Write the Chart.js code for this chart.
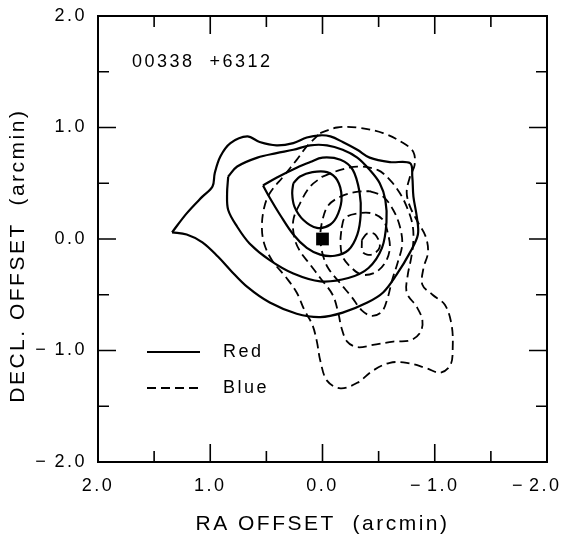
<!DOCTYPE html>
<html>
<head>
<meta charset="utf-8">
<script src="https://cdn.jsdelivr.net/npm/chart.js@4"></script>
<style>
  body { margin: 0; background: #fff; }
  canvas { display: block; }
</style>
</head>
<body>
<canvas id="contourChart" width="562" height="542"></canvas>
<script>
// contour traces, [RA offset, Decl offset] in arcmin
const red1 = [[1.34,0.06],[1.21,0.23],[1.07,0.38],[0.98,0.47],[0.96,0.59],[0.91,0.74],[0.82,0.86],[0.67,0.92],[0.56,0.87],[0.41,0.84],[0.26,0.86],[0.14,0.91],[0.02,0.93],[-0.07,0.92],[-0.18,0.87],[-0.31,0.80],[-0.42,0.73],[-0.60,0.69],[-0.78,0.68],[-0.80,0.56],[-0.81,0.38],[-0.84,0.20],[-0.85,0.04],[-0.78,-0.12],[-0.66,-0.32],[-0.54,-0.48],[-0.40,-0.57],[-0.18,-0.66],[0.02,-0.70],[0.23,-0.67],[0.47,-0.57],[0.67,-0.43],[0.82,-0.28],[0.93,-0.16],[1.07,-0.03],[1.21,0.04],[1.34,0.06]];
const red2 = [[0.84,0.56],[0.76,0.65],[0.58,0.73],[0.41,0.77],[0.26,0.80],[0.11,0.84],[-0.04,0.84],[-0.18,0.80],[-0.31,0.73],[-0.42,0.62],[-0.51,0.50],[-0.56,0.35],[-0.57,0.15],[-0.53,-0.08],[-0.41,-0.26],[-0.23,-0.35],[0.02,-0.38],[0.26,-0.31],[0.47,-0.19],[0.65,-0.04],[0.76,0.11],[0.84,0.26],[0.85,0.41],[0.84,0.56]];
const red3 = [[0.53,0.48],[0.41,0.55],[0.23,0.64],[0.11,0.69],[0.00,0.73],[-0.16,0.71],[-0.27,0.62],[-0.33,0.42],[-0.34,0.22],[-0.31,0.04],[-0.23,-0.10],[-0.11,-0.15],[0.02,-0.14],[0.14,-0.08],[0.26,0.04],[0.38,0.22],[0.47,0.37],[0.53,0.48]];
const red4 = [[0.26,0.50],[0.20,0.56],[0.09,0.60],[-0.04,0.60],[-0.13,0.53],[-0.17,0.38],[-0.14,0.23],[-0.07,0.13],[0.05,0.10],[0.17,0.17],[0.25,0.29],[0.27,0.41],[0.26,0.50]];

const blue1 = [[0.02,0.95],[-0.13,1.00],[-0.31,1.00],[-0.54,0.95],[-0.72,0.86],[-0.81,0.78],[-0.82,0.66],[-0.78,0.56],[-0.75,0.42],[-0.78,0.29],[-0.85,0.15],[-0.92,0.02],[-0.94,-0.12],[-0.90,-0.26],[-0.89,-0.41],[-0.98,-0.50],[-1.09,-0.59],[-1.15,-0.77],[-1.16,-0.98],[-1.14,-1.13],[-1.05,-1.20],[-0.93,-1.16],[-0.75,-1.11],[-0.60,-1.11],[-0.45,-1.18],[-0.31,-1.29],[-0.16,-1.34],[-0.04,-1.27],[0.02,-1.09],[0.05,-0.92],[0.09,-0.77],[0.16,-0.64],[0.23,-0.48],[0.32,-0.35],[0.45,-0.19],[0.52,-0.04],[0.54,0.11],[0.52,0.28],[0.47,0.41],[0.35,0.56],[0.23,0.71],[0.14,0.83],[0.02,0.95]];
const blue2 = [[0.00,0.56],[-0.16,0.62],[-0.31,0.65],[-0.49,0.62],[-0.60,0.53],[-0.69,0.41],[-0.75,0.29],[-0.80,0.14],[-0.81,-0.01],[-0.79,-0.17],[-0.76,-0.32],[-0.75,-0.48],[-0.84,-0.61],[-0.89,-0.73],[-0.87,-0.84],[-0.78,-0.91],[-0.63,-0.92],[-0.45,-0.95],[-0.31,-0.97],[-0.22,-0.92],[-0.17,-0.80],[-0.14,-0.66],[-0.09,-0.50],[0.02,-0.35],[0.11,-0.23],[0.20,-0.11],[0.25,0.01],[0.26,0.17],[0.20,0.32],[0.11,0.47],[0.00,0.56]];
const blue3 = [[-0.42,0.43],[-0.54,0.38],[-0.63,0.26],[-0.69,0.11],[-0.71,-0.05],[-0.67,-0.21],[-0.62,-0.37],[-0.58,-0.53],[-0.53,-0.65],[-0.44,-0.69],[-0.35,-0.64],[-0.26,-0.52],[-0.16,-0.40],[-0.05,-0.26],[0.00,-0.13],[0.02,0.02],[0.00,0.17],[-0.05,0.30],[-0.16,0.38],[-0.29,0.42],[-0.42,0.43]];
const blue4 = [[-0.17,0.10],[-0.20,0.19],[-0.32,0.23],[-0.44,0.23],[-0.54,0.17],[-0.58,0.06],[-0.60,-0.08],[-0.56,-0.21],[-0.47,-0.30],[-0.35,-0.32],[-0.26,-0.26],[-0.18,-0.16],[-0.16,-0.03],[-0.17,0.10]];
const blue5 = [[-0.35,-0.01],[-0.40,0.05],[-0.47,0.04],[-0.51,-0.07],[-0.44,-0.14],[-0.36,-0.12],[-0.35,-0.01]];

const sourcePos = [[0.0, 0.0]];

const majorTicks = [2, 1, 0, -1, -2];
const xTickLabels = ['2.0', '1.0', '0.0', '\u2212\u200a1.0', '\u2212\u200a2.0\u2003'];
const yTickLabels = ['2.0', '1.0', '0.0', '\u2212\u20091.0', '\u2212\u20092.0'];
const frameTicks = [-1.5, -1, -0.5, 0, 0.5, 1, 1.5];
const legendLabels = ['Red', 'Blue'];
const sourceName = '00338  +6312';

const FONT = '"Liberation Sans", Arial, sans-serif';
Chart.defaults.font.family = FONT;
Chart.defaults.color = '#000';

const toXY = arr => arr.map(p => ({ x: p[0], y: p[1] }));

function contour(pts, dashed) {
    return {
        data: toXY(pts),
        showLine: true,
        borderColor: '#000',
        borderWidth: dashed ? 1.8 : 2.2,
        borderDash: dashed ? [9, 5] : [],
        tension: 0.35,
        pointRadius: 0,
        fill: false
    };
}

// inward ticks on all four sides, frame, label and legend
const framePlugin = {
    id: 'framePlugin',
    beforeDraw(chart) {
        chart.ctx.letterSpacing = '2.5px';
    },
    afterDraw(chart) {
        const { ctx, chartArea: a, scales: { x, y } } = chart;
        ctx.save();
        ctx.strokeStyle = '#000';
        ctx.lineWidth = 2;
        ctx.strokeRect(a.left, a.top, a.right - a.left, a.bottom - a.top);

        ctx.lineWidth = 1.6;
        ctx.beginPath();
        frameTicks.forEach(v => {
            const len = Number.isInteger(v) ? 18 : 11;
            const px = x.getPixelForValue(v);
            const py = y.getPixelForValue(v);
            ctx.moveTo(px, a.bottom); ctx.lineTo(px, a.bottom - len);
            ctx.moveTo(px, a.top); ctx.lineTo(px, a.top + len);
            ctx.moveTo(a.left, py); ctx.lineTo(a.left + len, py);
            ctx.moveTo(a.right, py); ctx.lineTo(a.right - len, py);
        });
        ctx.stroke();

        ctx.fillStyle = '#000';
        ctx.font = '18px ' + FONT;
        ctx.letterSpacing = '2.5px';
        ctx.textBaseline = 'middle';
        ctx.textAlign = 'left';
        ctx.fillText(sourceName, 132, 62);

        // legend
        const rows = [352, 388];
        legendLabels.forEach((lab, i) => {
            ctx.lineWidth = i === 0 ? 2.2 : 1.8;
            ctx.setLineDash(i === 0 ? [] : [9, 5]);
            ctx.beginPath();
            ctx.moveTo(147, rows[i]);
            ctx.lineTo(200, rows[i]);
            ctx.stroke();
            ctx.fillText(lab, 223, rows[i]);
        });
        ctx.restore();
    }
};

new Chart(document.getElementById('contourChart'), {
    type: 'scatter',
    data: {
        datasets: [
            {
                data: toXY(sourcePos),
                pointStyle: 'rect',
                pointRadius: 9,
                backgroundColor: '#000',
                borderColor: '#000',
                borderWidth: 0
            },
            contour(red1, false), contour(red2, false), contour(red3, false), contour(red4, false),
            contour(blue1, true), contour(blue2, true), contour(blue3, true), contour(blue4, true), contour(blue5, true)
        ]
    },
    options: {
        responsive: false,
        animation: false,
        layout: { padding: { top: 16, right: 15, left: 0, bottom: 0 } },
        plugins: { legend: { display: false }, tooltip: { enabled: false } },
        scales: {
            x: {
                type: 'linear',
                reverse: true,
                min: -2, max: 2,
                grid: { display: false, drawTicks: false },
                border: { display: false },
                ticks: {
                    stepSize: 1,
                    padding: 13,
                    font: { size: 18 },
                    callback: v => { const i = majorTicks.indexOf(v); return i < 0 ? '' : xTickLabels[i]; }
                },
                title: {
                    display: true,
                    text: 'RA OFFSET  (arcmin)',
                    font: { size: 21 },
                    padding: { top: 0, bottom: 5 }
                },
                afterFit(s) { s.height = 80; s.paddingLeft = 0; s.paddingRight = 0; }
            },
            y: {
                type: 'linear',
                min: -2, max: 2,
                grid: { display: false, drawTicks: false },
                border: { display: false },
                ticks: {
                    stepSize: 1,
                    padding: 11,
                    font: { size: 18 },
                    callback: v => { const i = majorTicks.indexOf(v); return i < 0 ? '' : yTickLabels[i]; }
                },
                title: {
                    display: true,
                    text: 'DECL. OFFSET  (arcmin)    ',
                    font: { size: 21 },
                    padding: { top: 6, bottom: 0 }
                },
                afterFit(s) { s.width = 98; s.paddingTop = 0; s.paddingBottom = 0; }
            }
        }
    },
    plugins: [framePlugin]
});
</script>
</body>
</html>
